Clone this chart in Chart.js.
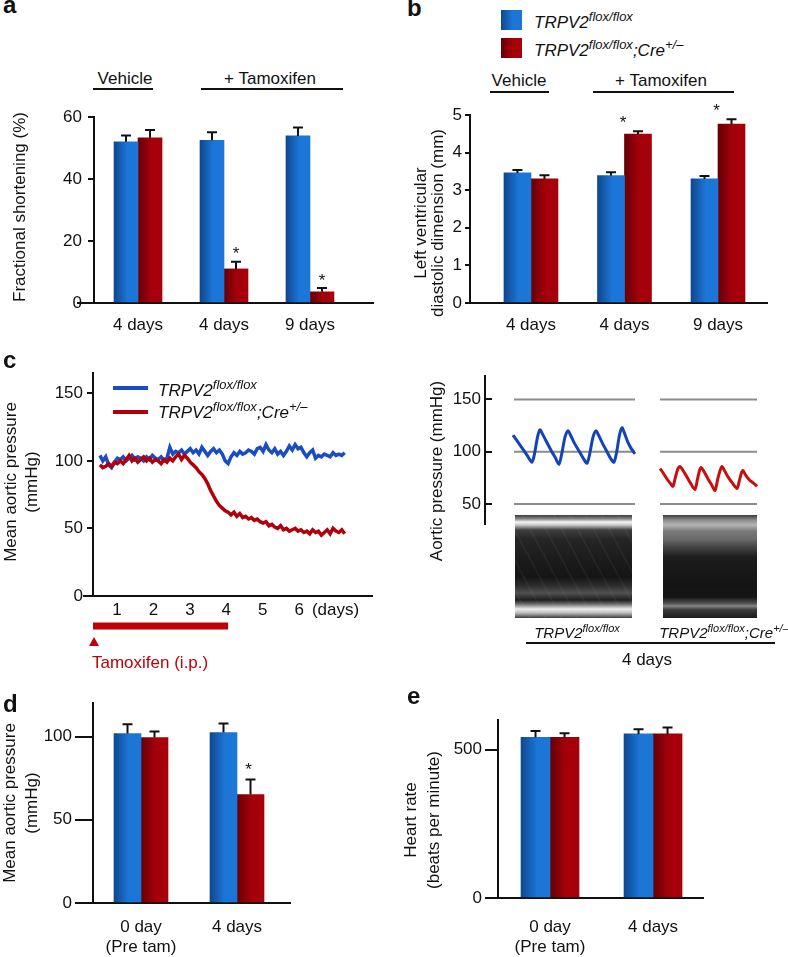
<!DOCTYPE html>
<html>
<head>
<meta charset="utf-8">
<script src="https://cdn.jsdelivr.net/npm/chart.js@4.4.1/dist/chart.umd.min.js"></script>
<style>
html, body { margin: 0; padding: 0; background: #fff; }
body { width: 788px; height: 957px; position: relative; overflow: hidden;
       font-family: "Liberation Sans", Arial, Helvetica, sans-serif; color: #111; }
.t { position: absolute; white-space: nowrap; line-height: 1; font-size: 17px; }
.t sup { font-size: 13px; vertical-align: 7px; line-height: 0; }
.t.small sup { font-size: 11px; vertical-align: 6px; }
canvas { position: absolute; }
.box { position: absolute; }
.echoL { background:
  repeating-linear-gradient(62deg, rgba(255,255,255,0) 0 12px, rgba(190,190,190,0.05) 12px 14px),
  linear-gradient(180deg, #3a3a3a 0, #8a8a8a 4px, #f4f4f4 7px, #c8c8c8 10px, #3e3e3e 15px, #262626 24px, #1b1b1b 45px, #151515 62px, #2a2a2a 70px, #505050 78px, #1e1e1e 85px, #6a6a6a 89px, #eeeeee 94px, #bcbcbc 98px, #3a3a3a 103px); }
.echoR { background: linear-gradient(180deg, #3a3a3a 0, #8c8c8c 5px, #b4b4b4 10px, #7a7a7a 16px, #6a6a6a 24px, #444 32px, #1d1d1d 42px, #141414 70px, #161616 82px, #4c4c4c 88px, #858585 91px, #3a3a3a 95px, #1a1a1a 103px); }
</style>
</head>
<body>
<script>
const FONT = '"Liberation Sans", Arial, Helvetica, sans-serif';
const INK = '#111';
const BLUE = ['#0e478f', '#1c76d8'];
const RED = ['#640006', '#a6000a'];
const LINE_BLUE = '#1a4cc6';
const LINE_RED = '#b0000c';

// a - fractional shortening (%)
const groupsA = ['4 days', '4 days', '9 days'];
const fsFlox = [52.0, 52.5, 53.9];
const fsFloxErr = [2.0, 2.6, 2.7];
const fsCre = [53.3, 11.0, 3.6];
const fsCreErr = [2.5, 2.3, 1.2];
const fsCreSig = [false, true, true];
const fsTicks = [0, 20, 40, 60];

// b - LV diastolic dimension (mm)
const groupsB = ['4 days', '4 days', '9 days'];
const lvFlox = [3.46, 3.39, 3.30];
const lvFloxErr = [0.08, 0.09, 0.08];
const lvCre = [3.30, 4.49, 4.76];
const lvCreErr = [0.10, 0.08, 0.13];
const lvCreSig = [false, true, true];
const lvTicks = [0, 1, 2, 3, 4, 5];

// c (left) - mean aortic pressure over days
const mapStartDay = 0.53;
const mapStepDay = 0.08;
const mapFlox = [104,100,103,97,95,99,102,
  101,103,100,102,104,101,103,102,100,103,101,104,102,
  101,103,100,102,110,105,107,106,108,105,
  107,109,106,108,105,110,107,104,107,109,106,108,105,
  100,98,103,106,104,107,105,106,
  108,107,105,109,110,107,112,108,106,109,105,107,
  104,107,111,108,112,109,110,106,103,106,108,102,
  104,103,105,104,103,106,104,105,104,106];
const mapCre = [97,95,96,98,96,99,98,
  100,98,101,104,100,102,99,101,103,100,102,99,101,
  100,98,101,99,102,100,103,105,101,104,
  102,99,97,95,
  92,90,87,83,78,74,70,67,65,
  63,62,60,62,59,61,58,59,57,58,56,57,55,
  54,55,52,53,51,50,52,49,50,48,49,50,
  48,49,47,48,46,49,47,48,45,47,49,46,50,48,47,49,46];
const dayTicks = [1, 2, 3, 4, 5, 6, 7];
const dayLabels = ['1', '2', '3', '4', '5', '6', '(days)'];
const mapTicks = [0, 50, 100, 150];
const tamoxifenDays = [0.34, 4.05];

// c (right) - aortic pressure traces (time in ms)
const pulseFloxT = [112,130,150,170,188,198,210,220,230,245,265,282,296,306,320,332,342,358,378,395,408,418,432,444,454,470,488,504,516,526,538,548,556,570,585,600];
const pulseFloxP = [116,110,103,96,90,98,114,121,117,110,101,94,88,97,114,120,116,108,100,93,89,97,114,120,116,108,100,93,90,99,116,123,119,110,103,98];
const pulseCreT = [700,712,728,744,752,762,772,780,790,805,822,840,850,858,864,874,890,905,920,930,940,948,958,972,990,1008,1018,1026,1032,1042,1058,1074,1088];
const pulseCreP = [84,80,74,69,67,76,84,86,83,77,70,64,74,82,85,82,75,69,63,73,82,86,82,76,70,65,73,80,82,78,73,70,67];
const pulseRefLevels = [150, 100, 50];
const pulseWindows = [[116, 600], [700, 1088]];
const pulseTicks = [50, 100, 150];

// d - mean aortic pressure (mmHg)
const groupsD = [['0 day', '(Pre tam)'], '4 days'];
const mapDFlox = [101.8, 102.4];
const mapDFloxErr = [5.5, 5.4];
const mapDCre = [99.4, 65.1];
const mapDCreErr = [3.6, 9.0];
const mapDCreSig = [false, true];
const mapDTicks = [0, 50, 100];

// e - heart rate (bpm)
const groupsE = [['0 day', '(Pre tam)'], '4 days'];
const hrFlox = [542, 553];
const hrFloxErr = [21, 16];
const hrCre = [542, 553];
const hrCreErr = [13, 22];
const hrTicks = [0, 500];

Chart.defaults.font.family = FONT;
Chart.defaults.color = INK;

// ---------- helpers ----------
function txt(html, x, y, o = {}) {
  const d = document.createElement('div');
  d.className = 't' + (o.cls ? ' ' + o.cls : '');
  d.innerHTML = html;
  const a = o.align || 'center';
  d.style.left = x + 'px';
  d.style.top = y + 'px';
  d.style.transform = `translate(${a === 'center' ? '-50%' : a === 'right' ? '-100%' : '0'}, -50%)`;
  if (o.size) d.style.fontSize = o.size + 'px';
  if (o.bold) d.style.fontWeight = 'bold';
  if (o.color) d.style.color = o.color;
  document.body.appendChild(d);
}
function vtxt(lines, cx, cy, lh) {
  const d = document.createElement('div');
  d.className = 't';
  d.innerHTML = lines.join('<br>');
  d.style.left = cx + 'px';
  d.style.top = cy + 'px';
  d.style.lineHeight = lh + 'px';
  d.style.textAlign = 'center';
  d.style.transform = 'translate(-50%, -50%) rotate(-90deg)';
  document.body.appendChild(d);
}
function rule(x1, x2, y, w = 2, color = INK) {
  const d = document.createElement('div');
  d.className = 'box';
  Object.assign(d.style, { left: x1 + 'px', top: (y - w / 2) + 'px', width: (x2 - x1) + 'px', height: w + 'px', background: color });
  document.body.appendChild(d);
}
function block(cls, x, y, w, h, bg) {
  const d = document.createElement('div');
  d.className = 'box ' + (cls || '');
  Object.assign(d.style, { left: x + 'px', top: y + 'px', width: w + 'px', height: h + 'px' });
  if (bg) d.style.background = bg;
  document.body.appendChild(d);
}
function mount(box) {
  const cv = document.createElement('canvas');
  cv.width = box.w; cv.height = box.h;
  cv.style.left = box.x + 'px'; cv.style.top = box.y + 'px';
  document.body.appendChild(cv);
  return cv;
}
function yAxis(box, area, ticks, min, max, tickLen, pad) {
  return {
    min, max,
    border: { color: INK, width: 2 },
    grid: { drawOnChartArea: false, drawTicks: true, tickLength: tickLen, color: INK, lineWidth: 2 },
    ticks: { color: INK, font: { family: FONT, size: 17 }, padding: pad },
    afterBuildTicks: s => { s.ticks = ticks.map(v => ({ value: v })); },
    afterFit: s => { s.width = area.l - box.x; }
  };
}
function xAxis(box, area, values, labels, min, max, pad) {
  return {
    type: 'linear', min, max, offset: false,
    border: { color: INK, width: 2 },
    grid: { display: false, drawTicks: false, offset: false },
    ticks: { color: INK, font: { family: FONT, size: 17 }, padding: pad, autoSkip: false, maxRotation: 0,
             callback: v => labels[values.indexOf(v)] },
    afterBuildTicks: s => { s.ticks = values.map(v => ({ value: v })); },
    afterFit: s => { s.height = box.y + box.h - area.b; }
  };
}
function shade(cols, side, w) {
  return c => {
    if (c.type !== 'data' || !c.chart.scales.x) return cols[1];
    const cx = c.chart.scales.x.getPixelForValue(c.raw.x);
    if (!isFinite(cx)) return cols[1];
    const left = side === 0 ? cx - w : cx;
    const g = c.chart.ctx.createLinearGradient(left, 0, left + w, 0);
    g.addColorStop(0, cols[0]);
    g.addColorStop(0.55, cols[1]);
    g.addColorStop(1, cols[1]);
    return g;
  };
}
function barSets(floxV, floxE, creV, creE, creSig, thick) {
  const pts = v => v.map((y, i) => ({ x: i + 1, y }));
  return [
    { data: pts(floxV), errors: floxE, barThickness: thick, backgroundColor: shade(BLUE, 0, thick), borderWidth: 0 },
    { data: pts(creV), errors: creE, stars: creSig, barThickness: thick, backgroundColor: shade(RED, 1, thick), borderWidth: 0 }
  ];
}

// error bars + significance stars
const errorBars = {
  id: 'errorBars',
  afterDatasetsDraw(chart, args, o) {
    const { ctx } = chart;
    const ys = chart.scales.y;
    chart.data.datasets.forEach((ds, di) => {
      if (!ds.errors) return;
      chart.getDatasetMeta(di).data.forEach((bar, i) => {
        const top = ys.getPixelForValue(ds.data[i].y + ds.errors[i]);
        ctx.save();
        ctx.strokeStyle = INK;
        ctx.lineWidth = 2;
        ctx.beginPath();
        ctx.moveTo(bar.x, bar.y);
        ctx.lineTo(bar.x, top);
        ctx.moveTo(bar.x - o.cap, top);
        ctx.lineTo(bar.x + o.cap, top);
        ctx.stroke();
        if (ds.stars && ds.stars[i]) {
          ctx.fillStyle = INK;
          ctx.font = `17px ${FONT}`;
          ctx.textAlign = 'center';
          ctx.textBaseline = 'alphabetic';
          ctx.fillText('*', bar.x + (o.starDx || 0), top - o.starGap);
        }
        ctx.restore();
      });
    });
  }
};

// short extension of the x axis line to the left of the y axis
const axisStub = {
  id: 'axisStub',
  afterDraw(chart, args, o) {
    if (!o.left) return;
    const { ctx, chartArea: a } = chart;
    ctx.save();
    ctx.strokeStyle = INK;
    ctx.lineWidth = 2;
    ctx.beginPath();
    ctx.moveTo(a.left - o.left, Math.round(a.bottom));
    ctx.lineTo(a.left, Math.round(a.bottom));
    ctx.stroke();
    ctx.restore();
  }
};

// tamoxifen treatment bar under panel c
const tamoxifenBar = {
  id: 'tamoxifenBar',
  afterDraw(chart) {
    const { ctx, chartArea: a } = chart;
    const xs = chart.scales.x;
    const x0 = xs.getPixelForValue(tamoxifenDays[0]);
    const x1 = xs.getPixelForValue(tamoxifenDays[1]);
    const y = a.bottom + 30;
    ctx.save();
    ctx.fillStyle = '#c00008';
    ctx.fillRect(x0, y - 3.5, x1 - x0, 7);
    ctx.beginPath();
    ctx.moveTo(x0 + 1, y + 11);
    ctx.lineTo(x0 + 6, y + 20);
    ctx.lineTo(x0 - 4, y + 20);
    ctx.closePath();
    ctx.fill();
    ctx.font = `17px ${FONT}`;
    ctx.textAlign = 'left';
    ctx.textBaseline = 'middle';
    ctx.fillText('Tamoxifen (i.p.)', x0 - 1, y + 37);
    ctx.restore();
  }
};

function barChart(box, area, o) {
  return new Chart(mount(box), {
    type: 'bar',
    data: { datasets: o.datasets },
    options: {
      animation: false, responsive: false, devicePixelRatio: 1,
      layout: { padding: { top: area.t - box.y, right: box.x + box.w - area.r, left: 0, bottom: 0 } },
      scales: {
        x: xAxis(box, area, o.groups.map((g, i) => i + 1), o.groups, o.xmin, o.xmax, o.xpad),
        y: yAxis(box, area, o.yticks, o.ymin, o.ymax, o.tick, o.ypad)
      },
      plugins: {
        legend: { display: false }, tooltip: { enabled: false },
        errorBars: { cap: 5, starGap: o.starGap, starDx: o.starDx || 0 },
        axisStub: { left: o.stub || 0 }
      }
    },
    plugins: [errorBars, axisStub]
  });
}

// ---------- panel a ----------
const boxA = { x: 0, y: 95, w: 394, h: 250 }, areaA = { l: 94, t: 117, r: 373, b: 303 };
barChart(boxA, areaA, {
  datasets: barSets(fsFlox, fsFloxErr, fsCre, fsCreErr, fsCreSig, 24),
  groups: groupsA, xmin: 0.488, xmax: 3.733, xpad: 12,
  yticks: fsTicks, ymin: 0, ymax: 60, tick: 6, ypad: 6, starGap: 2.5, stub: 17
});

// ---------- panel b ----------
const boxB = { x: 394, y: 95, w: 394, h: 250 }, areaB = { l: 470, t: 115, r: 767, b: 303 };
barChart(boxB, areaB, {
  datasets: barSets(lvFlox, lvFloxErr, lvCre, lvCreErr, lvCreSig, 27),
  groups: groupsB, xmin: 0.348, xmax: 3.524, xpad: 12,
  yticks: lvTicks, ymin: 0, ymax: 5, tick: 5, ypad: 3, starGap: 3.5, starDx: -15
});

// ---------- panel c, left ----------
const boxC = { x: 0, y: 355, w: 394, h: 325 }, areaC = { l: 93, t: 373, r: 372, b: 596 };
const series = v => v.map((y, i) => ({ x: mapStartDay + i * mapStepDay, y }));
new Chart(mount(boxC), {
  type: 'line',
  data: {
    datasets: [
      { data: series(mapFlox), borderColor: LINE_BLUE, borderWidth: 3.5, pointRadius: 0, tension: 0, order: 1 },
      { data: series(mapCre), borderColor: LINE_RED, borderWidth: 3.5, pointRadius: 0, tension: 0, order: 0 }
    ]
  },
  options: {
    animation: false, responsive: false, devicePixelRatio: 1,
    layout: { padding: { top: areaC.t - boxC.y, right: boxC.x + boxC.w - areaC.r, left: 0, bottom: 0 } },
    scales: {
      x: xAxis(boxC, areaC, dayTicks, dayLabels, 0.34, 8.0, 4),
      y: yAxis(boxC, areaC, mapTicks, 0, 165, 6, 4)
    },
    plugins: { legend: { display: false }, tooltip: { enabled: false }, axisStub: { left: 10 } }
  },
  plugins: [axisStub, tamoxifenBar]
});

// ---------- panel c, right ----------
const boxR = { x: 394, y: 355, w: 394, h: 190 }, areaR = { l: 485, t: 367, r: 770, b: 530 };
const trace = (t, p) => t.map((x, i) => ({ x, y: p[i] }));
const refLine = lvl => [
  { x: pulseWindows[0][0], y: lvl }, { x: pulseWindows[0][1], y: lvl },
  { x: (pulseWindows[0][1] + pulseWindows[1][0]) / 2, y: null },
  { x: pulseWindows[1][0], y: lvl }, { x: pulseWindows[1][1], y: lvl }
];
new Chart(mount(boxR), {
  type: 'line',
  data: {
    datasets: [
      { data: trace(pulseFloxT, pulseFloxP), borderColor: '#1443b8', borderWidth: 3, pointRadius: 0, tension: 0.25 },
      { data: trace(pulseCreT, pulseCreP), borderColor: '#c80f0f', borderWidth: 3, pointRadius: 0, tension: 0.25 },
      ...pulseRefLevels.map(l => ({ data: refLine(l), borderColor: '#8c8c8c', borderWidth: 2, pointRadius: 0, spanGaps: false }))
    ]
  },
  options: {
    animation: false, responsive: false, devicePixelRatio: 1,
    layout: { padding: { top: areaR.t - boxR.y, right: boxR.x + boxR.w - areaR.r, left: 0, bottom: boxR.y + boxR.h - areaR.b } },
    scales: {
      x: { type: 'linear', display: false, min: 0, max: (areaR.r - areaR.l) * 4 },
      y: yAxis(boxR, areaR, pulseTicks, 31.2, 172.2, -7, 11)
    },
    plugins: { legend: { display: false }, tooltip: { enabled: false } }
  }
});

// ---------- panel d ----------
const boxD = { x: 0, y: 690, w: 394, h: 267 }, areaD = { l: 93, t: 703, r: 290, b: 903 };
barChart(boxD, areaD, {
  datasets: barSets(mapDFlox, mapDFloxErr, mapDCre, mapDCreErr, mapDCreSig, 27),
  groups: groupsD, xmin: 0.5, xmax: 2.552, xpad: 14,
  yticks: mapDTicks, ymin: 0, ymax: 120, tick: 18, ypad: 3, starGap: 5, starDx: -2
});

// ---------- panel e ----------
const boxE = { x: 394, y: 690, w: 394, h: 267 }, areaE = { l: 498, t: 720, r: 703, b: 898 };
barChart(boxE, areaE, {
  datasets: barSets(hrFlox, hrFloxErr, hrCre, hrCreErr, [false, false], 29),
  groups: groupsE, xmin: 0.495, xmax: 2.485, xpad: 19,
  yticks: hrTicks, ymin: 0, ymax: 600, tick: 13, ypad: 3, starGap: 4
});

// ---------- text, legends, annotations ----------
const FLOX = '<i>TRPV2<sup>flox/flox</sup></i>';
const FLOXCRE = '<i>TRPV2<sup>flox/flox</sup>;Cre<sup>+/\u2013</sup></i>';

txt('a', 3, 5, { align: 'left', size: 24, bold: true });
txt('b', 407, 8, { align: 'left', size: 24, bold: true });
txt('c', 3, 360, { align: 'left', size: 24, bold: true });
txt('d', 3, 704, { align: 'left', size: 24, bold: true });
txt('e', 407, 696, { align: 'left', size: 24, bold: true });

// a
txt('Vehicle', 125, 78); rule(93, 153, 89);
txt('+ Tamoxifen', 270, 78); rule(201, 343, 89);
vtxt(['Fractional shortening (%)'], 20, 207, 20);

// b
block('', 501, 10, 21, 20, `linear-gradient(90deg, ${BLUE[0]}, ${BLUE[1]} 55%)`);
block('', 501, 38, 21, 20, `linear-gradient(90deg, ${RED[0]}, ${RED[1]} 55%)`);
txt(FLOX, 534, 22, { align: 'left' });
txt(FLOXCRE, 534, 50, { align: 'left' });
txt('Vehicle', 519, 80); rule(490, 549, 92);
txt('+ Tamoxifen', 661, 80); rule(593, 734, 92);
vtxt(['Left ventricular', 'diastolic dimension (mm)'], 429, 223, 17);

// c left
rule(113, 148, 388, 4, LINE_BLUE);
rule(113, 148, 412, 4, LINE_RED);
txt(FLOX, 158, 390, { align: 'left' });
txt(FLOXCRE, 158, 412, { align: 'left' });
vtxt(['Mean aortic pressure', '(mmHg)'], 21, 482, 21);

// c right
block('echoL', 515, 515, 117, 103);
block('echoR', 663, 515, 94, 103);
vtxt(['Aortic pressure (mmHg)'], 437, 471, 20);
txt(FLOX, 577, 632, { size: 15, cls: 'small' });
txt(FLOXCRE, 724, 632, { size: 15, cls: 'small' });
rule(526, 775, 643);
txt('4 days', 647, 659);

// d, e
vtxt(['Mean aortic pressure', '(mmHg)'], 21, 803, 22);
vtxt(['Heart rate', '(beats per minute)'], 422, 820, 23);
</script>
</body>
</html>
